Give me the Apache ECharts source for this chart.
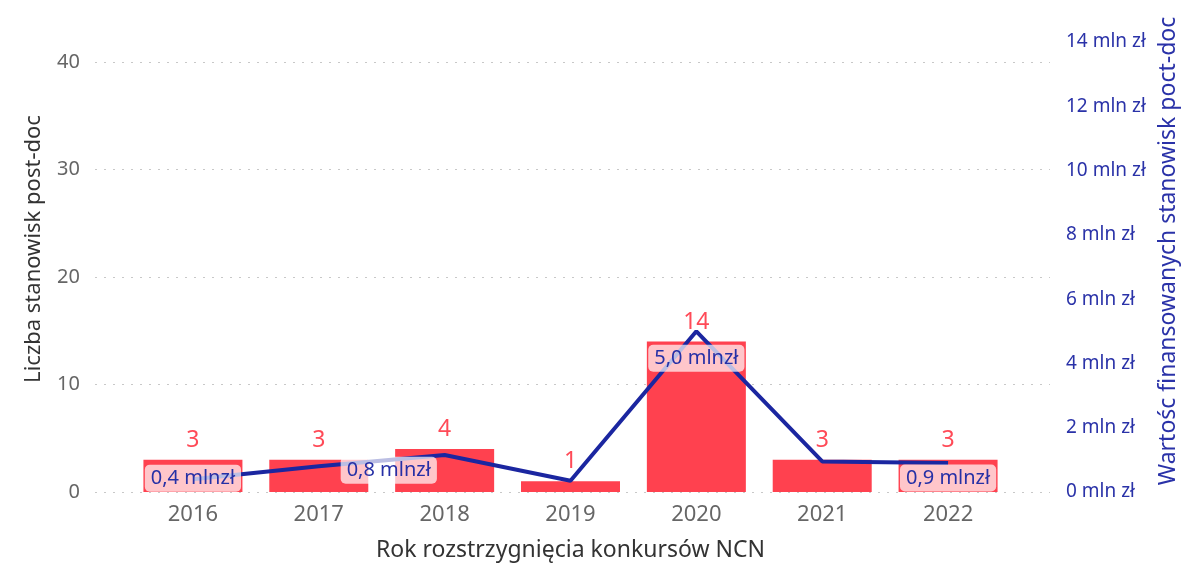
<!DOCTYPE html>
<html lang="pl">
<head>
    <meta charset="UTF-8">
    <title>Stanowiska post-doc</title>
    <script src="https://cdn.jsdelivr.net/npm/echarts@6/dist/echarts.min.js"></script>
    <style>
        html, body {
            margin: 0;
            padding: 0;
            background: #fff;
        }

        #chart {
            width: 1190px;
            height: 568px;
        }
    </style>
</head>
<body>
<div id="chart"></div>

<script type="text/javascript">
    // dane
    const years = ['2016', '2017', '2018', '2019', '2020', '2021', '2022'];
    const postDocCount = [3, 3, 4, 1, 14, 3, 3];
    const valueMln = [0.4, 0.8, 1.15, 0.35, 5.0, 0.95, 0.9];
    const countTicks = [0, 10, 20, 30, 40];
    const mlnTicks = [0, 2, 4, 6, 8, 10, 12, 14];

    // gdzie stoją etykiety linii (tylko te, które widać)
    const lineLabelOffset = {0: [0, -1], 1: [70, 4], 4: [0, 27], 6: [0, 15]};

    const font = '"Noto Sans", "Open Sans", sans-serif';
    const red = '#FF414F';
    const navy = '#1B26A0';

    // lewa oś: 40 ma wypaść niżej niż 14 mln zł na prawej
    const countMax = 41.86;
    const mlnMax = mlnTicks[mlnTicks.length - 1];

    const lineData = valueMln.map(function (v, i) {
        const off = lineLabelOffset[i];
        return {
            value: v,
            label: off ? {show: true, offset: off} : {show: false}
        };
    });

    const chart = echarts.init(document.getElementById('chart'));

    const option = {
        animation: false,
        textStyle: {fontFamily: font},
        grid: [
            // siatka z liniami pomocniczymi i opisanymi osiami
            {left: 95, right: 140, top: 42, bottom: 76, outerBoundsMode: 'none'},
            // właściwa siatka dla słupków i linii
            {left: 130, right: 179, top: 42, bottom: 76, outerBoundsMode: 'none'}
        ],
        xAxis: [
            {
                gridIndex: 0,
                type: 'category',
                data: years,
                show: false
            },
            {
                gridIndex: 1,
                type: 'category',
                data: years,
                axisLine: {show: false},
                axisTick: {show: false},
                axisLabel: {color: '#666', fontSize: 22, margin: 12, fontFamily: font},
                name: 'Rok rozstrzygnięcia konkursów NCN',
                nameLocation: 'middle',
                nameGap: 47,
                nameTextStyle: {color: '#333', fontSize: 23, fontFamily: font}
            }
        ],
        yAxis: [
            {
                gridIndex: 0,
                type: 'value',
                min: countTicks[0],
                max: countMax,
                interval: 10,
                axisLine: {show: false},
                axisTick: {show: false},
                axisLabel: {
                    color: '#666',
                    fontSize: 20,
                    margin: 15,
                    showMaxLabel: false,
                    formatter: function (v) {
                        return countTicks.indexOf(v) >= 0 ? String(v) : '';
                    }
                },
                splitLine: {
                    show: true,
                    showMaxLine: false,
                    lineStyle: {color: '#c8c8c8', width: 1, type: [2, 7]}
                },
                name: 'Liczba stanowisk post-doc',
                nameLocation: 'middle',
                nameRotate: 90,
                nameGap: 50,
                nameTextStyle: {color: '#333', fontSize: 22, fontFamily: font, padding: [0, 0, 0, 36]}
            },
            {
                gridIndex: 0,
                type: 'value',
                position: 'right',
                min: 0,
                max: mlnMax,
                interval: 2,
                axisLine: {show: false},
                axisTick: {show: false},
                splitLine: {show: false},
                axisLabel: {
                    color: '#2A32A8',
                    fontSize: 19,
                    margin: 16,
                    formatter: function (v) {
                        return v + ' mln zł';
                    }
                },
                name: 'Wartośc finansowanych stanowisk poct-doc',
                nameLocation: 'middle',
                nameRotate: 90,
                nameGap: 107,
                nameTextStyle: {color: '#2A32A8', fontSize: 23, fontFamily: font, padding: [0, 0, 0, 32]}
            },
            {gridIndex: 1, type: 'value', min: 0, max: countMax, show: false, splitLine: {show: false}},
            {gridIndex: 1, type: 'value', min: 0, max: mlnMax, show: false, splitLine: {show: false}}
        ],
        series: [
            {
                name: 'Liczba stanowisk',
                type: 'bar',
                xAxisIndex: 1,
                yAxisIndex: 2,
                data: postDocCount,
                barWidth: 99,
                itemStyle: {color: red},
                z: 2,
                label: {
                    show: true,
                    position: 'top',
                    distance: 8,
                    color: '#FF4A57',
                    fontSize: 23,
                    fontFamily: font
                }
            },
            {
                name: 'Wartość',
                type: 'line',
                xAxisIndex: 1,
                yAxisIndex: 3,
                data: lineData,
                symbol: 'circle',
                symbolSize: 0,
                showSymbol: true,
                lineStyle: {color: navy, width: 4},
                itemStyle: {color: navy},
                z: 3,
                label: {
                    position: 'inside',
                    color: '#2630A6',
                    fontSize: 20,
                    fontFamily: font,
                    backgroundColor: 'rgba(255,255,255,0.7)',
                    borderRadius: 5,
                    padding: [4, 6, 3, 6],
                    formatter: function (p) {
                        return p.value.toFixed(1).replace('.', ',') + ' mlnzł';
                    }
                }
            }
        ]
    };

    chart.setOption(option);
</script>
</body>
</html>
